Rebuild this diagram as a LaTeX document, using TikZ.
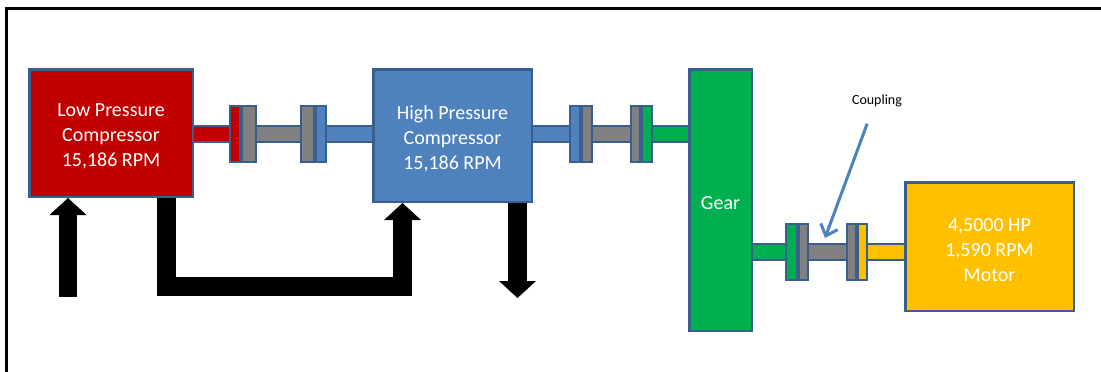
\documentclass[tikz,border=0pt]{standalone}
\usepackage{fontspec}
\setmainfont{Carlito}
\usetikzlibrary{arrows.meta,backgrounds}
\definecolor{lpred}{HTML}{C00000}
\definecolor{hpblue}{HTML}{4F81BD}
\definecolor{geargreen}{HTML}{00B050}
\definecolor{motoryellow}{HTML}{FFC000}
\definecolor{shaftgray}{HTML}{808080}
\definecolor{rim}{HTML}{3A5F8E}
\tikzset{unit/.style={rectangle,draw=rim,line width=2.5pt,inner sep=0pt,align=center,text=white,text height=70pt,font=\fontsize{20}{25}\selectfont},flange/.style={rectangle,draw=rim,line width=2pt,inner sep=0pt,minimum height=56pt},shaft/.style={draw=rim,line width=2pt,double distance=14pt},flow/.style={line width=18.5pt,-{Triangle[length=17pt,width=37pt,line width=0pt]}},pointer/.style={draw=hpblue,line width=3pt,-{Straight Barb[length=10pt,width=18pt]}}}

\begin{document}
\begin{tikzpicture}[x=1pt,y=-1pt]
\useasboundingbox (0,0) rectangle (1101,372);
%frame
\draw[line width=3.5pt] (6.5,372) -- (6.5,8.5) -- (1101,8.5);

%compressors
\node (lp) at (111,133)[unit,fill=lpred,minimum width=163.5pt,minimum height=127.5pt]{Low Pressure\\Compressor\\15,186 RPM};
\node (hp) at (452.5,135.5)[unit,fill=hpblue,minimum width=158.5pt,minimum height=132.5pt]{High Pressure\\Compressor\\15,186 RPM};

%gear and motor
\node (gear) at (720.5,200)[unit,fill=geargreen,text height=20pt,minimum width=62.5pt,minimum height=261.5pt]{Gear};
\node (motor) at (989.5,246.5)[unit,fill=motoryellow,minimum width=168.5pt,minimum height=128.5pt]{4,5000 HP\\1,590 RPM\\Motor};

%coupling lp-hp
\node (f1a) at (235,134)[flange,fill=lpred,minimum width=10pt]{};
\node (f1b) at (249,134)[flange,fill=shaftgray,minimum width=14pt]{};
\node (f2a) at (307.5,134)[flange,fill=shaftgray,minimum width=13pt]{};
\node (f2b) at (321,134)[flange,fill=hpblue,minimum width=10pt]{};

%coupling hp-gear
\node (f3a) at (575,134)[flange,fill=hpblue,minimum width=10pt]{};
\node (f3b) at (587,134)[flange,fill=shaftgray,minimum width=10pt]{};
\node (f4a) at (635.5,134)[flange,fill=shaftgray,minimum width=9pt]{};
\node (f4b) at (647,134)[flange,fill=geargreen,minimum width=10pt]{};

%coupling gear-motor
\node (f5a) at (791.5,251.5)[flange,fill=geargreen,minimum width=11pt]{};
\node (f5b) at (803.5,251.5)[flange,fill=shaftgray,minimum width=9pt]{};
\node (f6a) at (851.5,251.5)[flange,fill=shaftgray,minimum width=9pt]{};
\node (f6b) at (862.5,251.5)[flange,fill=motoryellow,minimum width=9pt]{};

%shafts
\begin{scope}[on background layer]
\draw[shaft,double=lpred] (f1a.west -| lp.east) -- (f1a.west);
\draw[shaft,double=shaftgray] (f1b.east) -- (f2a.west);
\draw[shaft,double=hpblue] (f2b.east) -- (f2b.east -| hp.west);
\draw[shaft,double=hpblue] (f3a.west -| hp.east) -- (f3a.west);
\draw[shaft,double=shaftgray] (f3b.east) -- (f4a.west);
\draw[shaft,double=geargreen] (f4b.east) -- (f4b.east -| gear.west);
\draw[shaft,double=geargreen] (f5a.west -| gear.east) -- (f5a.west);
\draw[shaft,double=shaftgray] (f5b.east) -- (f6a.west);
\draw[shaft,double=motoryellow] (f6b.east) -- (f6b.east -| motor.west);
\end{scope}

%air flow
\coordinate (inlet) at (68,297);
\coordinate (outlet) at (517.5,298);
\draw[flow] (inlet) -- (inlet |- lp.south);
\draw[flow] ([xshift=55.5pt]lp.south) -- ++(0,88.5) -| ([xshift=-50pt]hp.south);
\draw[flow] ([xshift=65pt]hp.south) -- (outlet);

%label
\node (cpl) at (877,101)[font=\fontsize{14}{17}\selectfont]{Coupling};
\coordinate (cplend) at (825,238);
\draw[pointer,shorten <=14pt] ([xshift=-5pt]cpl.south) -- (cplend);
\end{tikzpicture}
\end{document}
